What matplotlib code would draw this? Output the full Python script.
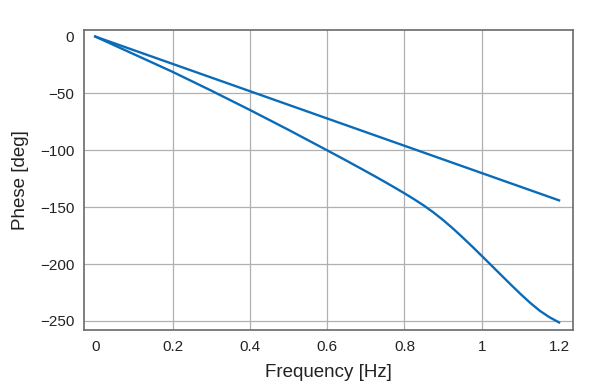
import matplotlib.pyplot as plt

plt.rcParams['font.family'] = ['Liberation Sans', 'DejaVu Sans']

# straight line (pure delay)
freq_lin = [0, 1.2]
phase_lin = [0, -144]

# curved line
freq_curve = [0, 0.1, 0.2, 0.3, 0.4, 0.5, 0.6, 0.65, 0.7, 0.725, 0.75, 0.775,
              0.8, 0.825, 0.85, 0.875, 0.9, 0.925, 0.95, 0.975, 1.0, 1.025,
              1.05, 1.075, 1.1, 1.125, 1.15, 1.175, 1.2]
phase_curve = [0, -15.5, -31, -47.5, -64.5, -82, -100, -109.1, -118.4, -123.1,
               -127.9, -132.8, -137.8, -143, -148.5, -154.6, -161.3, -168.6,
               -176.4, -184.5, -192.8, -201.2, -209.6, -218, -226.2, -234,
               -241, -246.7, -251.3]

xticks = [0, 0.2, 0.4, 0.6, 0.8, 1, 1.2]
xtick_labels = ['0', '0.2', '0.4', '0.6', '0.8', '1', '1.2']
yticks = [0, -50, -100, -150, -200, -250]

line_color = '#0a6cb8'

fig = plt.figure(figsize=(6, 3.92), dpi=100)
ax = fig.add_axes([0.14, 0.158, 0.815, 0.765])

# grid lines only at inner ticks
for x in [0.2, 0.4, 0.6, 0.8, 1.0]:
    ax.axvline(x, color='#b0b0b0', lw=0.9, zorder=1)
for y in [-50, -100, -150, -200, -250]:
    ax.axhline(y, color='#b0b0b0', lw=0.9, zorder=1)

ax.plot(freq_lin, phase_lin, color=line_color, lw=1.7, zorder=3)
ax.plot(freq_curve, phase_curve, color=line_color, lw=1.7, zorder=3,
        solid_joinstyle='round')

ax.set_xlim(-0.029, 1.236)
ax.set_ylim(-258, 5.6)
ax.set_xticks(xticks)
ax.set_xticklabels(xtick_labels)
ax.set_yticks(yticks)
ax.tick_params(length=0, labelsize=11, pad=7, colors='#222222')

for s in ax.spines.values():
    s.set_color('#6a6a6a')
    s.set_linewidth(1.2)

ax.set_xlabel('Frequency [Hz]', fontsize=13.5, color='#222222', labelpad=7)
ax.set_ylabel('Phese [deg]', fontsize=13.5, color='#222222', labelpad=8)

plt.savefig('out.png')
